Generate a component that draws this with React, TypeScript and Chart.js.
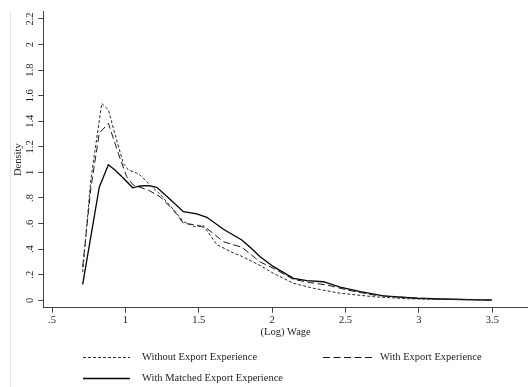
import React, { useEffect, useRef } from "react";
import { Chart, registerables } from "chart.js";

Chart.register(...registerables);

// ---- data ----
const withoutX = [0.709, 0.764, 0.839, 0.884, 0.936, 0.986, 1.02, 1.077, 1.1, 1.17, 1.236, 1.327, 1.395, 1.475, 1.531, 1.623, 1.736, 1.782, 1.918, 2.008, 2.145, 2.281, 2.463, 2.69, 2.918, 3.145, 3.497];
const withoutY = [0.22, 0.94, 1.54, 1.49, 1.27, 1.07, 1.02, 0.995, 0.98, 0.9, 0.83, 0.71, 0.615, 0.575, 0.585, 0.435, 0.37, 0.35, 0.272, 0.211, 0.133, 0.094, 0.055, 0.028, 0.012, 0.007, 0.002];

const withX = [0.709, 0.765, 0.822, 0.884, 0.952, 1.009, 1.054, 1.156, 1.236, 1.327, 1.395, 1.486, 1.555, 1.668, 1.793, 1.918, 2.008, 2.145, 2.259, 2.372, 2.509, 2.69, 2.918, 3.145, 3.497];
const withY = [0.26, 0.88, 1.306, 1.384, 1.149, 0.966, 0.901, 0.862, 0.81, 0.706, 0.602, 0.589, 0.563, 0.458, 0.415, 0.3, 0.25, 0.164, 0.138, 0.12, 0.081, 0.041, 0.02, 0.01, 0.002];

const matchedX = [0.709, 0.822, 0.884, 0.929, 0.99, 1.05, 1.1, 1.156, 1.214, 1.304, 1.395, 1.486, 1.555, 1.668, 1.793, 1.85, 1.918, 2.009, 2.145, 2.236, 2.349, 2.463, 2.6, 2.758, 2.986, 3.145, 3.497];
const matchedY = [0.125, 0.884, 1.06, 1.019, 0.95, 0.88, 0.894, 0.896, 0.884, 0.79, 0.693, 0.675, 0.649, 0.555, 0.471, 0.414, 0.341, 0.263, 0.172, 0.153, 0.145, 0.102, 0.067, 0.034, 0.016, 0.01, 0.002];

const seriesLabels = ["Without Export Experience", "With Export Experience", "With Matched Export Experience"];

const xTickValues = [0.5, 1, 1.5, 2, 2.5, 3, 3.5];
const xTickLabels = [".5", "1", "1.5", "2", "2.5", "3", "3.5"];
const yTickValues = [0, 0.2, 0.4, 0.6, 0.8, 1, 1.2, 1.4, 1.6, 1.8, 2, 2.2];
const yTickLabels = ["0", ".2", ".4", ".6", ".8", "1", "1.2", "1.4", "1.6", "1.8", "2", "2.2"];

const xTitle = "(Log) Wage";
const yTitle = "Density";

const FONT = "'Liberation Serif', 'Times New Roman', serif";
const FS = 10.5;
const TEXT = "#1e1e1e";
const AXIS = "#444444";

const toPoints = (xs: number[], ys: number[]) => xs.map((x, i) => ({ x, y: ys[i] }));

const decorPlugin = {
  id: "decor",
  beforeDraw(chart: any) {
    const ctx = chart.ctx;
    ctx.save();
    ctx.strokeStyle = "#dce7ec";
    ctx.lineWidth = 1;
    ctx.beginPath();
    ctx.moveTo(10.5, 11);
    ctx.lineTo(10.5, 387);
    ctx.stroke();
    ctx.restore();
  },
  afterDraw(chart: any) {
    const ctx = chart.ctx;
    const slots = [
      { x0: 83, x1: 130, y: 357.5, tx: 142 },
      { x0: 323, x1: 372, y: 357.5, tx: 380 },
      { x0: 83, x1: 130, y: 378.5, tx: 142 },
    ];
    ctx.save();
    chart.data.datasets.forEach((ds: any, i: number) => {
      const s = slots[i];
      ctx.strokeStyle = ds.borderColor;
      ctx.lineWidth = ds.borderWidth;
      ctx.setLineDash(ds.borderDash || []);
      ctx.beginPath();
      ctx.moveTo(s.x0, s.y);
      ctx.lineTo(s.x1, s.y);
      ctx.stroke();
      ctx.setLineDash([]);
      ctx.fillStyle = TEXT;
      ctx.font = `${FS}px ${FONT}`;
      ctx.textBaseline = "middle";
      ctx.textAlign = "left";
      ctx.fillText(ds.label, s.tx, s.y);
    });
    ctx.restore();
  },
};

export default function App() {
  const ref = useRef<HTMLCanvasElement | null>(null);

  useEffect(() => {
    document.body.style.margin = "0";
    const canvas = ref.current;
    if (!canvas) return;
    const chart = new Chart(canvas, {
      type: "line",
      data: {
        datasets: [
          {
            label: seriesLabels[0],
            data: toPoints(withoutX, withoutY),
            borderColor: "#2a2a2a",
            borderWidth: 1,
            borderDash: [3, 2],
            pointRadius: 0,
            tension: 0,
            fill: false,
          },
          {
            label: seriesLabels[1],
            data: toPoints(withX, withY),
            borderColor: "#1a1a1a",
            borderWidth: 1,
            borderDash: [7, 3.5],
            pointRadius: 0,
            tension: 0,
            fill: false,
          },
          {
            label: seriesLabels[2],
            data: toPoints(matchedX, matchedY),
            borderColor: "#000000",
            borderWidth: 1.3,
            borderDash: [],
            pointRadius: 0,
            tension: 0,
            fill: false,
          },
        ],
      },
      options: {
        responsive: false,
        animation: false,
        devicePixelRatio: 1,
        layout: { padding: { top: 11.7, left: 0, right: 0, bottom: 0 } },
        plugins: { legend: { display: false }, tooltip: { enabled: false } },
        scales: {
          x: {
            type: "linear",
            min: 0.4407,
            max: 3.743,
            afterBuildTicks: (s: any) => {
              s.ticks = xTickValues.map((v) => ({ value: v }));
            },
            afterFit: (s: any) => {
              s.height = 79.3;
              s.paddingLeft = 0;
              s.paddingRight = 0;
            },
            ticks: {
              autoSkip: false,
              maxRotation: 0,
              minRotation: 0,
              padding: 1,
              color: TEXT,
              font: { family: FONT, size: FS },
              callback: (_v: any, i: number) => xTickLabels[i],
            },
            grid: { display: true, drawOnChartArea: false, drawTicks: true, tickLength: 5, color: AXIS, lineWidth: 1 },
            border: { display: true, color: AXIS, width: 1 },
            title: {
              display: true,
              text: xTitle,
              color: TEXT,
              font: { family: FONT, size: FS },
              padding: { top: 0, bottom: 48.7 },
            },
          },
          y: {
            type: "linear",
            min: -0.058,
            max: 2.257,
            afterBuildTicks: (s: any) => {
              s.ticks = yTickValues.map((v) => ({ value: v }));
            },
            afterFit: (s: any) => {
              s.width = 43.3;
              s.paddingTop = 0;
              s.paddingBottom = 0;
            },
            ticks: {
              autoSkip: false,
              minRotation: 90,
              maxRotation: 90,
              crossAlign: "center",
              padding: 1,
              color: TEXT,
              font: { family: FONT, size: FS },
              callback: (_v: any, i: number) => yTickLabels[i],
            },
            grid: { display: true, drawOnChartArea: false, drawTicks: true, tickLength: 5, color: AXIS, lineWidth: 1 },
            border: { display: true, color: AXIS, width: 1 },
            title: {
              display: true,
              text: yTitle,
              color: TEXT,
              font: { family: FONT, size: FS },
              padding: { top: 11.7, bottom: 0 },
            },
          },
        },
      },
      plugins: [decorPlugin],
    } as any);
    return () => chart.destroy();
  }, []);

  return (
    <div style={{ width: 528, height: 387, position: "relative", overflow: "hidden", background: "#fff" }}>
      <canvas ref={ref} width={528} height={387} style={{ display: "block" }} />
    </div>
  );
}
